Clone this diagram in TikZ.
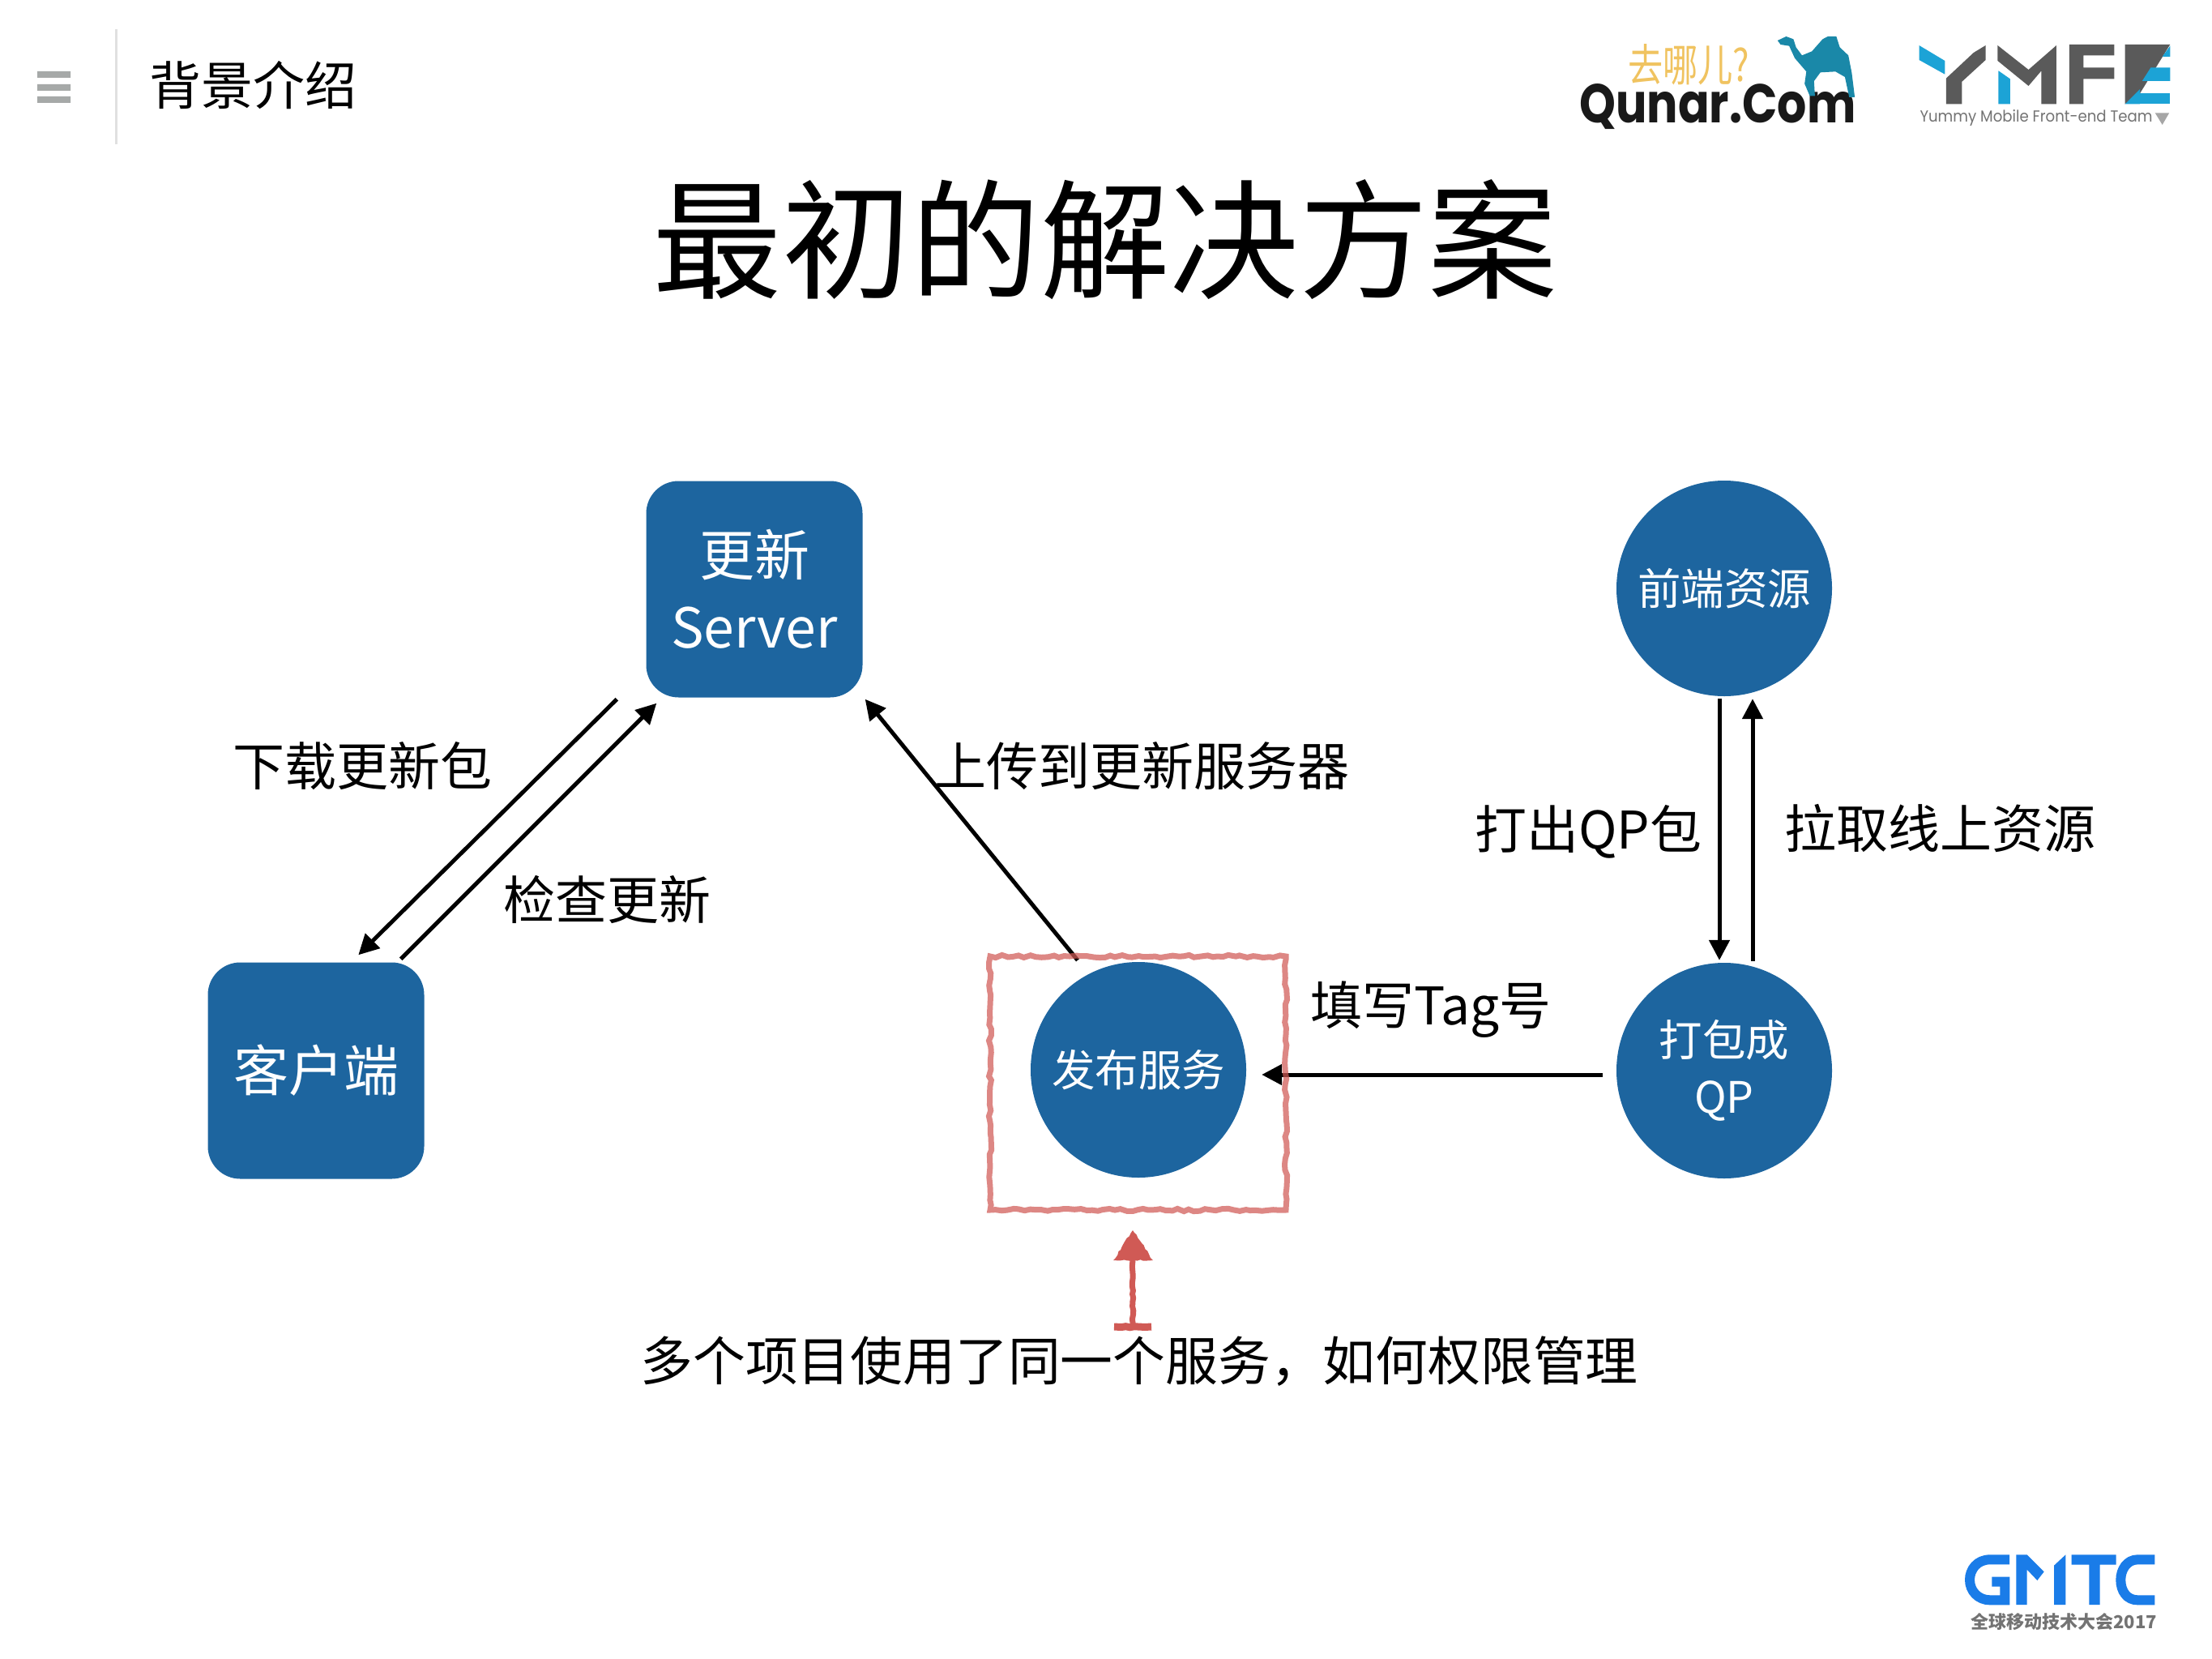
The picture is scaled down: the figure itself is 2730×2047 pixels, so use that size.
\documentclass[tikz,border=0pt]{standalone}
\usepackage{graphicx}
\usepackage{fontspec}
\setmainfont{Noto Sans CJK SC}
\newfontfamily\logofont{Poppins}
\usetikzlibrary{decorations.pathmorphing,arrows.meta,calc}
\definecolor{boxblue}{HTML}{1D659F}
\definecolor{redmark}{HTML}{D05A55}
\definecolor{menugrey}{HTML}{A6A9A8}
\definecolor{rulegrey}{HTML}{E0E0E0}
\definecolor{camelteal}{HTML}{1A88A8}
\definecolor{ymfeblue}{HTML}{1CA3D6}
\definecolor{ymfegrey}{HTML}{5A5A5A}
\definecolor{gmtcblue}{HTML}{1A7CE8}
\definecolor{qunargold}{HTML}{F0C360}
\tikzset{
  sq/.style={draw=none,fill=boxblue,rounded corners=40pt,minimum size=267pt,inner sep=0pt,text=white,align=center},
  circ/.style={circle,draw=none,fill=boxblue,minimum size=266pt,inner sep=0pt,text=white,align=center},
  lab/.style={inner sep=0pt,text=black,font=\fontsize{64}{70}\selectfont},
  inlarge/.style={font=\fontsize{68}{89}\selectfont},
  insmall/.style={font=\fontsize{53.5}{70}\selectfont},
  conn/.style={line width=5pt,draw=black,-{Triangle[length=25pt,width=25pt]}},
  roughred/.style={decorate,decoration={random steps,segment length=7pt,amplitude=1.6pt}},
}
\begin{document}
\begin{tikzpicture}[x=1pt,y=-1pt]
\pgfmathsetseed{7}
\useasboundingbox[fill=white] (0,0) rectangle (2730,2047);

% header
\fill[menugrey] (46,88) rectangle (87,96) (46,104) rectangle (87,112) (46,119) rectangle (87,127);
\draw[rulegrey,line width=3pt] (143,36) -- (143,178);
\node[lab,font=\fontsize{64}{70}\selectfont] (hdr) at (312,105) {背景介绍};
\node[lab,font=\fontsize{159.5}{170}\selectfont] (title) at (1364,296) {最初的解决方案};

% Qunar logo
\node[inner sep=0pt,text=qunargold] (qtop) at (2084,80) {\resizebox{150pt}{46pt}{去哪儿?}};
\node[inner sep=0pt,text=black!90] (qname) at (2120,132) {\resizebox{341pt}{48pt}{\logofont\bfseries Qunar.Com}};
\begin{scope}[shift={(1900,0)},x=0.5294pt,y=-0.3333pt]
\fill[camelteal] (555,150) -- (575,135) -- (592,145) -- (598,175) -- (612,205) -- (635,190) -- (660,145) -- (672,135) -- (692,135) -- (700,175) -- (720,205) -- (728,270) -- (735,360) -- (722,360) -- (712,285) -- (690,265) -- (655,268) -- (640,300) -- (642,355) -- (630,355) -- (618,310) -- (622,265) -- (595,215) -- (582,170) -- (562,165) -- cycle;
\end{scope}

% YMFE logo
\begin{scope}[shift={(1900,0)},x=0.5294pt,y=-0.3333pt]
\fill[ymfeblue] (885,168) -- (945,225) -- (945,275) -- (885,222) -- cycle;
\fill[ymfegrey] (1040,168) -- (1040,222) -- (985,302) -- (985,385) -- (948,385) -- (948,290) -- (1012,195) -- cycle;
\fill[ymfegrey] (1068,168) -- (1140,258) -- (1205,168) -- (1205,385) -- (1170,385) -- (1170,262) -- (1140,318) -- (1068,225) -- cycle;
\fill[ymfeblue] (1070,262) -- (1097,292) -- (1097,385) -- (1070,385) -- cycle;
\fill[ymfegrey] (1235,165) -- (1340,165) -- (1340,205) -- (1268,205) -- (1268,250) -- (1340,250) -- (1340,292) -- (1268,292) -- (1268,385) -- (1235,385) -- cycle;
\fill[ymfegrey] (1365,165) -- (1470,165) -- (1400,345) -- (1365,385) -- cycle;
\fill[ymfeblue] (1470,170) -- (1470,210) -- (1452,210) -- cycle;
\fill[ymfeblue] (1425,250) -- (1470,250) -- (1470,300) -- (1405,300) -- cycle;
\fill[ymfeblue] (1400,345) -- (1470,345) -- (1470,385) -- (1400,385) -- cycle;
\fill[ymfeblue] (1365,385) -- (1400,330) -- (1400,385) -- cycle;
\fill[black!35] (1435,418) -- (1468,418) -- (1452,462) -- cycle;
\end{scope}
\node[inner sep=0pt,text=black!55] (ymfetxt) at (2513,146) {\resizebox{287pt}{15pt}{\logofont Yummy Mobile Front-end Team}};

% GMTC logo
\begin{scope}[shift={(2380,1880)},x=0.3333pt,y=-0.3333pt]
\draw[gmtcblue,line width=12pt] (300,133) -- (228,133) .. controls (180,133) and (153,170) .. (153,208) .. controls (153,250) and (185,283) .. (228,283) -- (283,283) -- (283,215) -- (235,215);
\fill[gmtcblue] (325,300) -- (325,115) -- (365,115) -- (428,178) -- (403,210) -- (365,170) -- (365,300) -- cycle;
\fill[gmtcblue] (465,300) -- (465,155) -- (508,115) -- (508,300) -- cycle;
\fill[gmtcblue] (530,115) -- (695,115) -- (695,152) -- (635,152) -- (635,300) -- (595,300) -- (595,152) -- (530,152) -- cycle;
\draw[gmtcblue,line width=12pt] (838,133) -- (775,133) .. controls (735,133) and (712,170) .. (712,208) .. controls (712,250) and (735,283) .. (775,283) -- (838,283);
\end{scope}
\node[inner sep=0pt,text=black!55,font=\fontsize{22}{24}\selectfont\bfseries] (gmtctxt) at (2547,2001) {全球移动技术大会2017};

% nodes
\node[sq,inlarge] (srv) at (931,727) {更新\\Server};
\node[sq,inlarge] (cli) at (390,1321) {客户端};
\node[circ,insmall] (res) at (2128,726) {前端资源};
\node[circ,insmall] (pkg) at (2128,1321) {\raisebox{-5pt}{打包成}\\\raisebox{-5pt}{QP}};
\node[circ,insmall] (pub) at (1405,1320) {发布服务};

% connectors
\draw[conn] ([xshift=-36pt,yshift=-2pt]srv.south west) -- ([xshift=186pt,yshift=9pt]cli.north west);
\draw[conn] ([xshift=-29pt,yshift=4pt]cli.north east) -- ([xshift=13pt,yshift=-7pt]srv.south west);
\draw[conn] ([xshift=-75pt,yshift=2pt]pub.north) -- ([xshift=3pt,yshift=-2pt]srv.south east);
\draw[conn] ([xshift=-6pt,yshift=-3pt]res.south) -- ([xshift=-6pt,yshift=3pt]pkg.north);
\draw[conn] ([xshift=35pt,yshift=2pt]pkg.north) -- ([xshift=35pt,yshift=-3pt]res.south);
\draw[conn] ([xshift=-17pt,yshift=-5pt]pkg.west) -- ([xshift=19pt,yshift=-6pt]pub.east);

% connector labels
\node[lab] (l1) at (447,945) {下载更新包};
\node[lab] (l2) at (749,1110) {检查更新};
\node[lab] (l3) at (1409,945) {上传到更新服务器};
\node[lab] (l4) at (1960,1026) {打出QP包};
\node[lab] (l5) at (2394,1022) {拉取线上资源};
\node[lab] (l6) at (1766,1246) {填写Tag号};
\node[lab,font=\fontsize{64.8}{70}\selectfont] (l7) at (1406,1680) {多个项目使用了同一个服务，如何权限管理};

% red marks
\node[draw=redmark,draw opacity=.72,line width=7pt,minimum width=365pt,minimum height=313pt,inner sep=0pt,roughred] (mark) at (1404.5,1336.5) {};
\coordinate (rfoot) at (1398,1637);
\coordinate (rbase) at (1398,1555);
\fill[redmark,roughred,decoration={segment length=4pt,amplitude=1pt}] (1398,1518) -- (1423,1555) -- (1374,1555) -- cycle;
\draw[redmark,line width=7pt,roughred,decoration={segment length=5pt,amplitude=.8pt}] (rfoot) -- (rbase);
\draw[redmark,line width=9pt,roughred,decoration={segment length=5pt,amplitude=.8pt}] ($(rfoot)+(-23,0)$) -- ($(rfoot)+(23,0)$);
\end{tikzpicture}
\end{document}
